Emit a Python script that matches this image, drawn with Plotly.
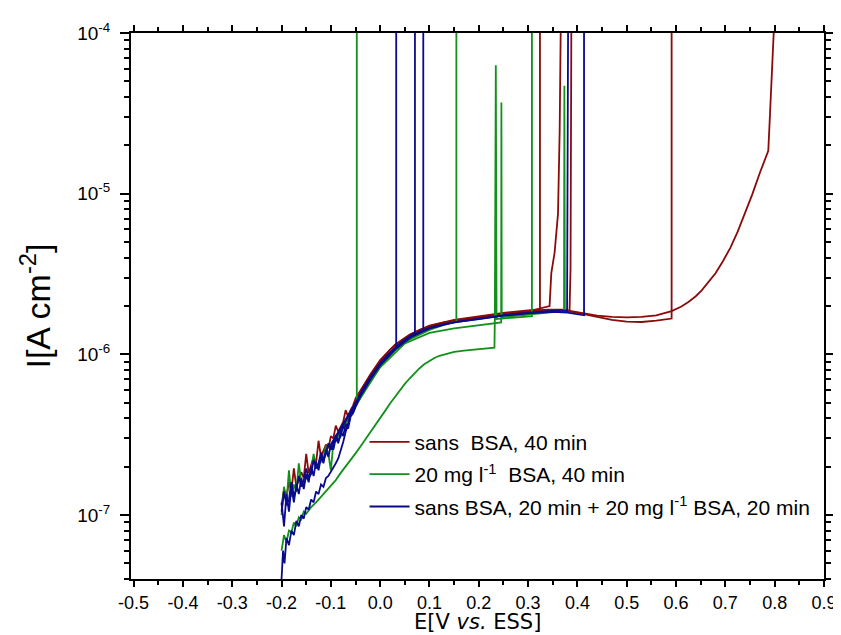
import plotly.graph_objects as go

# ---------------- data (E in V vs. ESS, I in A cm^-2) ----------------
E_start = [-0.200, -0.195, -0.190, -0.185, -0.180, -0.175, -0.170, -0.165, -0.160, -0.155,
           -0.150, -0.145, -0.140, -0.135, -0.130, -0.125, -0.120, -0.115, -0.110, -0.105,
           -0.100, -0.095, -0.090, -0.085, -0.080, -0.075, -0.070, -0.065, -0.060, -0.055, -0.050]

# --- sans BSA, 40 min (red)
red_long_E = E_start + [-0.035, -0.02, 0.0, 0.02, 0.04, 0.06, 0.08, 0.10, 0.13, 0.16, 0.19, 0.22, 0.25,
                        0.28, 0.31, 0.34, 0.37, 0.39, 0.415, 0.44, 0.47, 0.50, 0.53, 0.56, 0.591, 0.61,
                        0.625, 0.64, 0.652, 0.665, 0.68, 0.695, 0.71, 0.725, 0.74, 0.754, 0.77, 0.787,
                        0.79, 0.793, 0.796, 0.798]
red_long_I = [1.15e-7, 1.45e-7, 1.3e-7, 1.6e-7, 1.42e-7, 1.95e-7, 1.5e-7, 1.68e-7, 1.85e-7, 1.7e-7,
              2.4e-7, 1.82e-7, 2.05e-7, 2.3e-7, 2.1e-7, 2.9e-7, 2.3e-7, 2.55e-7, 2.75e-7, 2.6e-7,
              3.1e-7, 3.0e-7, 3.6e-7, 3.3e-7, 3.55e-7, 3.8e-7, 4.5e-7, 4.1e-7, 4.5e-7, 4.8e-7, 5.3e-7,
              6.3e-7, 7.4e-7, 9.1e-7, 1.07e-6, 1.2e-6, 1.32e-6, 1.42e-6, 1.5e-6, 1.58e-6, 1.64e-6,
              1.69e-6, 1.74e-6, 1.79e-6, 1.83e-6, 1.87e-6, 1.9e-6, 1.9e-6, 1.85e-6, 1.79e-6, 1.74e-6,
              1.71e-6, 1.7e-6, 1.71e-6, 1.75e-6, 1.86e-6, 1.98e-6, 2.12e-6, 2.3e-6, 2.5e-6, 2.8e-6,
              3.2e-6, 3.8e-6, 4.6e-6, 5.8e-6, 7.5e-6, 9.8e-6, 1.35e-5, 1.85e-5, 2.9e-5, 4.5e-5, 7.0e-5, 1e-4]
red_1_E = [-0.05, -0.02, 0.0, 0.03, 0.06, 0.10, 0.15, 0.20, 0.25, 0.30, 0.324, 0.324]
red_1_I = [5.3e-7, 7.5e-7, 9.2e-7, 1.15e-6, 1.33e-6, 1.51e-6, 1.64e-6, 1.73e-6, 1.81e-6, 1.88e-6, 1.9e-6, 1e-4]
red_2_E = [-0.05, 0.0, 0.05, 0.10, 0.15, 0.20, 0.25, 0.30, 0.3435, 0.347, 0.3537, 0.3606, 0.364, 0.366]
red_2_I = [5.1e-7, 8.9e-7, 1.25e-6, 1.48e-6, 1.61e-6, 1.7e-6, 1.78e-6, 1.85e-6, 2.0e-6, 3.2e-6, 4.3e-6, 7.5e-6, 2.5e-5, 1e-4]
red_3_E = [-0.05, 0.0, 0.05, 0.10, 0.15, 0.20, 0.25, 0.30, 0.35, 0.384, 0.386, 0.3876]
red_3_I = [5.0e-7, 8.7e-7, 1.23e-6, 1.46e-6, 1.6e-6, 1.69e-6, 1.77e-6, 1.84e-6, 1.89e-6, 1.87e-6, 3.4e-6, 1e-4]
red_4_E = [-0.05, 0.0, 0.05, 0.10, 0.15, 0.20, 0.25, 0.30, 0.35, 0.39, 0.415, 0.44, 0.47, 0.50, 0.53,
           0.56, 0.58, 0.591, 0.591]
red_4_I = [5.1e-7, 8.9e-7, 1.25e-6, 1.48e-6, 1.61e-6, 1.7e-6, 1.78e-6, 1.85e-6, 1.88e-6, 1.84e-6, 1.77e-6,
           1.7e-6, 1.64e-6, 1.6e-6, 1.59e-6, 1.62e-6, 1.65e-6, 1.67e-6, 1e-4]

# --- 20 mg l-1 BSA, 40 min (green)
green_1_E = E_start + [-0.0474, -0.0474]
green_1_I = [1.0e-7, 1.5e-7, 1.2e-7, 1.9e-7, 1.3e-7, 1.55e-7, 1.4e-7, 2.1e-7, 1.6e-7, 1.55e-7,
             1.7e-7, 1.75e-7, 1.85e-7, 2.4e-7, 1.95e-7, 2.05e-7, 2.15e-7, 2.25e-7, 2.7e-7, 2.4e-7,
             1.9e-7, 2.8e-7, 2.95e-7, 3.15e-7, 3.3e-7, 3.5e-7, 3.7e-7, 3.95e-7, 4.2e-7, 4.5e-7, 4.9e-7,
             5.2e-7, 1e-4]
green_2_E = [-0.10, -0.05, -0.02, 0.0, 0.03, 0.06, 0.10, 0.13, 0.1545, 0.1545]
green_2_I = [2.6e-7, 4.8e-7, 6.8e-7, 8.4e-7, 1.06e-6, 1.24e-6, 1.42e-6, 1.53e-6, 1.6e-6, 1e-4]
green_3_E = [-0.200, -0.195, -0.190, -0.185, -0.180, -0.175, -0.170, -0.165, -0.160, -0.155, -0.150,
             -0.14, -0.13, -0.12, -0.11, -0.10, -0.09, -0.08, -0.07, -0.06, -0.05, -0.04, -0.03, -0.02,
             -0.01, 0.0, 0.01, 0.02, 0.03, 0.04, 0.05, 0.06, 0.07, 0.08, 0.09, 0.10, 0.11, 0.12, 0.135,
             0.15, 0.17, 0.19, 0.21, 0.2317, 0.2325, 0.2345, 0.236, 0.25, 0.27, 0.29, 0.3077, 0.3077]
green_3_I = [0.6e-7, 0.75e-7, 0.68e-7, 0.8e-7, 0.78e-7, 0.9e-7, 0.85e-7, 0.97e-7, 0.94e-7, 1.05e-7, 1.02e-7,
             1.12e-7, 1.2e-7, 1.3e-7, 1.42e-7, 1.52e-7, 1.65e-7, 1.83e-7, 2.0e-7, 2.2e-7, 2.42e-7,
             2.67e-7, 2.95e-7, 3.25e-7, 3.6e-7, 4.0e-7, 4.45e-7, 4.95e-7, 5.45e-7, 6.0e-7, 6.55e-7, 7.1e-7,
             7.65e-7, 8.2e-7, 8.7e-7, 9.15e-7, 9.5e-7, 9.8e-7, 1.01e-6, 1.035e-6, 1.055e-6, 1.07e-6, 1.085e-6,
             1.1e-6, 1.65e-6, 6.3e-5, 1.66e-6, 1.67e-6, 1.69e-6, 1.71e-6, 1.73e-6, 1e-4]
green_4_E = [-0.05, 0.0, 0.05, 0.10, 0.15, 0.20, 0.2453, 0.2458, 0.2465, 0.26, 0.29, 0.32, 0.35,
             0.3728, 0.3735, 0.3745, 0.376]
green_4_I = [4.8e-7, 8.3e-7, 1.17e-6, 1.36e-6, 1.45e-6, 1.52e-6, 1.58e-6, 3.7e-5, 1.7e-6, 1.72e-6,
             1.76e-6, 1.8e-6, 1.83e-6, 1.85e-6, 4.7e-5, 1.86e-6, 1.84e-6]

# --- sans BSA, 20 min + 20 mg l-1 BSA, 20 min (blue)
blue_1_E = E_start + [-0.035, -0.02, 0.0, 0.02, 0.0325, 0.0325]
blue_1_I = [1.05e-7, 1.4e-7, 1.15e-7, 1.25e-7, 1.6e-7, 1.3e-7, 1.45e-7, 1.75e-7, 1.5e-7, 1.65e-7,
            1.95e-7, 1.7e-7, 1.8e-7, 2.2e-7, 1.95e-7, 2.1e-7, 2.45e-7, 2.2e-7, 2.4e-7, 2.8e-7,
            2.55e-7, 2.7e-7, 3.15e-7, 2.9e-7, 3.1e-7, 3.6e-7, 3.35e-7, 3.6e-7, 4.2e-7, 4.4e-7, 4.8e-7,
            6.1e-7, 7.2e-7, 8.8e-7, 1.02e-6, 1.1e-6, 1e-4]
blue_2_E = [-0.10, -0.05, -0.02, 0.0, 0.03, 0.05, 0.0705, 0.0705]
blue_2_I = [2.75e-7, 5.05e-7, 7.15e-7, 8.75e-7, 1.09e-6, 1.24e-6, 1.36e-6, 1e-4]
blue_3_E = [-0.10, -0.05, -0.02, 0.0, 0.03, 0.06, 0.0874, 0.0874]
blue_3_I = [2.7e-7, 4.95e-7, 7.0e-7, 8.6e-7, 1.07e-6, 1.27e-6, 1.42e-6, 1e-4]
blue_4_E = E_start + [-0.035, -0.02, 0.0, 0.02, 0.04, 0.06, 0.08, 0.10, 0.13, 0.16, 0.19, 0.22, 0.25,
                      0.28, 0.31, 0.34, 0.37, 0.379, 0.381]
blue_4_I = [1.2e-7, 0.85e-7, 1.35e-7, 1.05e-7, 1.5e-7, 1.2e-7, 1.55e-7, 1.35e-7, 1.7e-7, 1.45e-7,
            1.8e-7, 1.6e-7, 2.0e-7, 1.75e-7, 2.15e-7, 1.9e-7, 2.3e-7, 2.1e-7, 2.55e-7, 2.3e-7,
            2.75e-7, 2.55e-7, 3.0e-7, 2.8e-7, 3.3e-7, 3.1e-7, 3.7e-7, 3.45e-7, 4.1e-7, 4.3e-7, 4.7e-7,
            6.0e-7, 7.1e-7, 8.7e-7, 1.03e-6, 1.16e-6, 1.28e-6, 1.38e-6, 1.46e-6, 1.54e-6, 1.6e-6,
            1.65e-6, 1.7e-6, 1.75e-6, 1.79e-6, 1.83e-6, 1.86e-6, 1.87e-6, 1.86e-6, 1e-4]
blue_5_E = [-0.200, -0.197, -0.194, -0.190, -0.185, -0.180, -0.175, -0.170, -0.165, -0.160, -0.155,
            -0.150, -0.145, -0.140, -0.135, -0.130, -0.125, -0.120, -0.115, -0.110, -0.105, -0.100,
            -0.095, -0.090, -0.085, -0.080, -0.075, -0.070, -0.065, -0.060, -0.055, -0.050, -0.02, 0.0,
            0.03, 0.06, 0.10, 0.15, 0.20, 0.25, 0.30, 0.35, 0.38, 0.40, 0.4134, 0.4134]
blue_5_I = [0.4e-7, 0.6e-7, 0.5e-7, 0.72e-7, 0.65e-7, 0.8e-7, 0.75e-7, 0.92e-7, 0.85e-7, 1.0e-7, 0.95e-7,
            1.12e-7, 1.08e-7, 1.25e-7, 1.2e-7, 1.4e-7, 1.35e-7, 1.55e-7, 1.5e-7, 1.7e-7, 1.75e-7, 1.85e-7,
            1.95e-7, 2.1e-7, 2.25e-7, 2.5e-7, 2.85e-7, 3.3e-7, 3.8e-7, 4.2e-7, 4.55e-7, 4.9e-7, 7.0e-7,
            8.6e-7, 1.08e-6, 1.27e-6, 1.45e-6, 1.58e-6, 1.66e-6, 1.74e-6, 1.8e-6, 1.84e-6, 1.82e-6,
            1.78e-6, 1.75e-6, 1e-4]

x_ticks = [-0.5, -0.4, -0.3, -0.2, -0.1, 0.0, 0.1, 0.2, 0.3, 0.4, 0.5, 0.6, 0.7, 0.8, 0.9]
y_ticks = [1e-7, 1e-6, 1e-5, 1e-4]
y_tick_text = ["10<sup>-7</sup>", "10<sup>-6</sup>", "10<sup>-5</sup>", "10<sup>-4</sup>"]
x_title = "E[V <i>vs.</i> ESS]"
y_title = "I[A cm<sup>-2</sup>]"

series = [
    ("sans\u00a0\u00a0BSA, 40 min", "#8b0a0a",
     [(red_long_E, red_long_I), (red_1_E, red_1_I), (red_2_E, red_2_I), (red_3_E, red_3_I), (red_4_E, red_4_I)]),
    ("20 mg l<sup>-1</sup>\u00a0\u00a0BSA, 40 min", "#12901a",
     [(green_3_E, green_3_I), (green_1_E, green_1_I), (green_2_E, green_2_I), (green_4_E, green_4_I)]),
    ("sans BSA, 20 min + 20 mg l<sup>-1</sup> BSA, 20 min", "#0a0a8c",
     [(blue_5_E, blue_5_I), (blue_1_E, blue_1_I), (blue_2_E, blue_2_I), (blue_3_E, blue_3_I), (blue_4_E, blue_4_I)]),
]

fig = go.Figure()
for gi, (name, color, curves) in enumerate(series):
    for ci, (ex, iy) in enumerate(curves):
        fig.add_trace(go.Scatter(
            x=ex, y=iy, mode="lines", name=name, legendgroup=f"g{gi}",
            showlegend=(ci == 0), line=dict(color=color, width=1.8)))

minor_y = [d * 10.0 ** p for p in range(-8, -4) for d in range(2, 10)]

axis_common = dict(showline=True, linecolor="black", linewidth=2, mirror="allticks",
                   ticks="outside", tickcolor="black", tickwidth=2, showgrid=False, zeroline=False)

fig.update_layout(
    width=841, height=635,
    margin=dict(l=123, r=22, t=19, b=64),
    paper_bgcolor="white", plot_bgcolor="white",
    font=dict(family="Liberation Sans, Arial, sans-serif", color="black", size=17),
    showlegend=True,
    legend=dict(x=0.337, y=0.288, xanchor="left", yanchor="top", bgcolor="rgba(0,0,0,0)",
                font=dict(size=21, family="Liberation Sans, Arial, sans-serif"),
                tracegroupgap=2, itemwidth=40),
    xaxis=dict(axis_common, range=[-0.5053, 0.9], tickmode="array", tickvals=x_ticks,
               ticktext=[f"{v:.1f}" for v in x_ticks], ticklen=6,
               tickfont=dict(family="Liberation Sans Narrow, Arial Narrow, Liberation Sans, sans-serif", size=18),
               minor=dict(ticks="outside", dtick=0.05, tick0=-0.5, ticklen=4, tickwidth=2, tickcolor="black")),
    yaxis=dict(axis_common, type="log", range=[-7.398, -4], tickmode="array", tickvals=y_ticks,
               ticktext=y_tick_text, ticklen=9, ticklabelstandoff=6,
               tickfont=dict(family="Liberation Sans, Arial, sans-serif", size=19),
               minor=dict(ticks="outside", tickvals=minor_y, ticklen=5, tickwidth=2, tickcolor="black"),
               title=dict(text=y_title, standoff=16,
                          font=dict(family="Liberation Sans, Arial, sans-serif", size=34))),
    annotations=[dict(text=x_title, xref="paper", yref="paper", x=0.5, y=-0.0785,
                      xanchor="center", yanchor="middle", showarrow=False,
                      font=dict(family="DejaVu Sans, Open Sans, sans-serif", size=21))],
)

fig.write_html("out.html")
